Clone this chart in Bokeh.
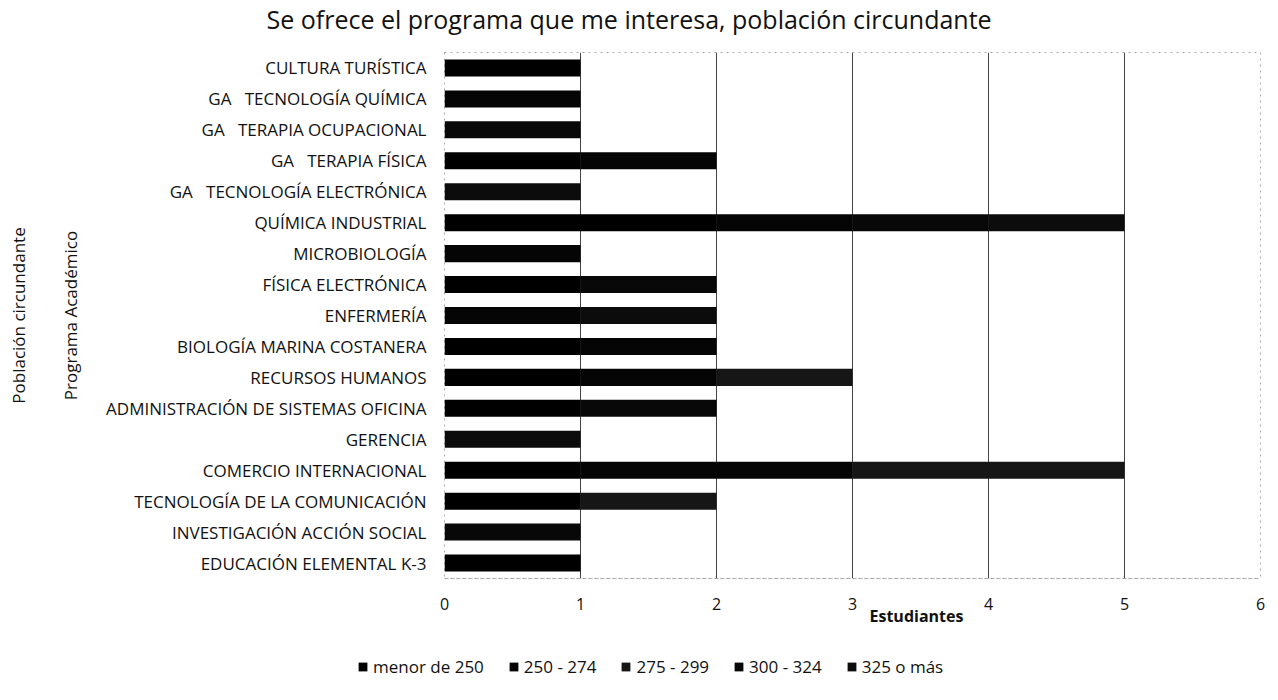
from bokeh.plotting import figure
from bokeh.models import ColumnDataSource, Title, Legend, FactorRange, Label
from bokeh.layouts import column
from bokeh.embed import file_html
from bokeh.resources import INLINE

NB = "\u00a0"
titulo = "Se ofrece el programa que me interesa, población circundante"
programas = [
    "CULTURA TURÍSTICA",
    "GA" + NB * 3 + "TECNOLOGÍA QUÍMICA",
    "GA" + NB * 3 + "TERAPIA OCUPACIONAL",
    "GA" + NB * 3 + "TERAPIA FÍSICA",
    "GA" + NB * 3 + "TECNOLOGÍA ELECTRÓNICA",
    "QUÍMICA INDUSTRIAL",
    "MICROBIOLOGÍA",
    "FÍSICA ELECTRÓNICA",
    "ENFERMERÍA",
    "BIOLOGÍA MARINA COSTANERA",
    "RECURSOS HUMANOS",
    "ADMINISTRACIÓN DE SISTEMAS OFICINA",
    "GERENCIA",
    "COMERCIO INTERNACIONAL",
    "TECNOLOGÍA DE LA COMUNICACIÓN",
    "INVESTIGACIÓN ACCIÓN SOCIAL",
    "EDUCACIÓN ELEMENTAL K-3",
]

series_names = ["menor de 250", "250 - 274", "275 - 299", "300 - 324", "325 o más"]
menor_250 = [1, 0, 0, 1, 0, 2, 0, 1, 0, 1, 1, 1, 0, 1, 1, 0, 1]
r_250_274 = [0, 1, 0, 1, 0, 1, 1, 0, 1, 1, 1, 0, 0, 2, 0, 0, 0]
r_275_299 = [0, 0, 0, 0, 0, 0, 0, 0, 0, 0, 1, 0, 0, 2, 1, 0, 0]
r_300_324 = [0, 0, 1, 0, 0, 1, 0, 1, 0, 0, 0, 1, 0, 0, 0, 1, 0]
r_325_mas = [0, 0, 0, 0, 1, 1, 0, 0, 1, 0, 0, 0, 1, 0, 0, 0, 0]

colors = ["#000000", "#050505", "#161616", "#080808", "#0c0c0c"]
keys = ["s0", "s1", "s2", "s3", "s4"]

source = ColumnDataSource(dict(
    prog=programas, s0=menor_250, s1=r_250_274, s2=r_275_299, s3=r_300_324, s4=r_325_mas
))

FONT = "Open Sans"
TXT = "#111111"


def no_align(fig):
    try:
        fig.frame_align = False
    except Exception:
        pass


# title strip
pt = figure(width=1270, height=36, x_range=(0, 1270), y_range=(0, 36),
            output_backend="svg", toolbar_location=None, min_border=0)
no_align(pt)
pt.axis.visible = False
pt.grid.visible = False
pt.outline_line_color = None
pt.add_layout(Label(x=266, y=18, text=titulo, text_align="left", text_baseline="middle",
                    text_font=FONT, text_font_size="25px", text_color=TXT))

# main chart
p = figure(
    width=1270, height=596, title=None,
    y_range=FactorRange(*list(reversed(programas)), range_padding=0),
    x_range=(0, 6),
    output_backend="svg", toolbar_location=None,
    min_border_left=443, min_border_right=10, min_border_top=16, min_border_bottom=54,
)

renderers = p.hbar_stack(keys, y="prog", height=0.55, color=colors, source=source,
                         line_color=None)

p.xaxis.ticker = [0, 1, 2, 3, 4, 5, 6]
p.xaxis.major_label_text_font = FONT
p.xaxis.major_label_text_font_size = "16px"
p.xaxis.major_label_text_color = TXT
p.xaxis.major_tick_line_color = None
p.xaxis.minor_tick_line_color = None
p.xaxis.axis_line_color = "#999999"
p.xaxis.axis_line_dash = "2 4"
p.xaxis.major_label_standoff = 13

p.yaxis.major_label_text_font = FONT
p.yaxis.major_label_text_font_size = "17px"
p.yaxis.major_label_text_color = TXT
p.yaxis.major_tick_line_color = None
p.yaxis.minor_tick_line_color = None
p.yaxis.axis_line_color = None
p.yaxis.major_label_standoff = 12

p.add_layout(Title(text="Programa Académico", align="center", text_font=FONT,
                   text_font_size="17px", text_font_style="normal", text_color=TXT,
                   standoff=44), "left")
p.add_layout(Title(text="Población circundante", align="center", text_font=FONT,
                   text_font_size="17px", text_font_style="normal", text_color=TXT,
                   standoff=9), "left")
p.add_layout(Title(text="Estudiantes", align="left", offset=425, text_font=FONT,
                   text_font_size="16px", text_font_style="bold", text_color=TXT,
                   standoff=-20), "below")

p.ygrid.grid_line_color = None
p.xgrid.grid_line_color = "#444444"
p.xgrid.grid_line_width = 1
p.outline_line_color = "#aaaaaa"
p.outline_line_dash = "2 4"

# legend strip below the chart (hidden copies of the stacked bars feed the legend)
pl = figure(width=1270, height=52, x_range=(0, 6),
            y_range=FactorRange(*list(reversed(programas))),
            output_backend="svg", toolbar_location=None,
            min_border=0)
no_align(pl)
pl.axis.visible = False
pl.grid.visible = False
pl.outline_line_color = None
leg_renderers = pl.hbar_stack(keys, y="prog", height=0.55, color=colors, source=source,
                              line_color=None)
for r in leg_renderers:
    r.visible = False

legend = Legend(
    items=[(name, [r]) for name, r in zip(series_names, leg_renderers)],
    orientation="horizontal",
    location=(357, 6),
    glyph_width=11, glyph_height=11,
    label_text_font=FONT, label_text_font_size="17px", label_text_color=TXT,
    spacing=24, padding=0, margin=0,
    border_line_color=None, background_fill_alpha=0,
    label_standoff=5,
    inactive_fill_alpha=0,
)
pl.add_layout(legend, "center")

layout = column(pt, p, pl, spacing=0)
open("out.html", "w").write(file_html(layout, INLINE))
